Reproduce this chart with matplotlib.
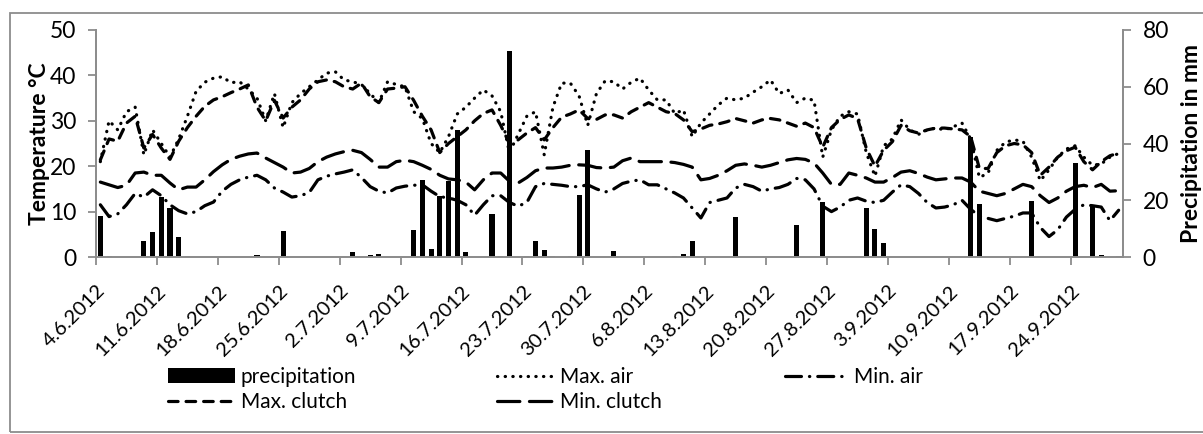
import numpy as np
import pandas as pd
import matplotlib
matplotlib.use("Agg")
import matplotlib.pyplot as plt
from matplotlib.patches import Rectangle

plt.rcParams['font.family'] = ['Lato', 'DejaVu Sans']

# daily values 4.6.2012 - 29.9.2012
dates = pd.date_range("2012-06-04", "2012-09-29", freq="D")

precipitation = [
    14.4, 0.5, 0, 0, 0, 5.6, 8.8, 21, 17.2, 7,
    0.3, 0, 0, 0, 0, 0, 0, 0, 0.7, 0,
    0, 9.2, 0, 0, 0, 0, 0, 0, 0, 1.8,
    0, 0.7, 1.2, 0, 0, 0, 9.5, 27, 2.8, 21.5,
    26.8, 44.7, 1.8, 0, 0, 15.1, 0.3, 72.5, 0, 0.2,
    5.6, 2.5, 0.5, 0, 0.2, 22, 37.7, 0, 0, 2.1,
    0, 0, 0, 0, 0, 0, 0.5, 1.2, 5.6, 0,
    0, 0, 0, 14, 0, 0, 0, 0, 0, 0,
    11.3, 0, 0, 19.4, 0, 0, 0, 0, 17.2, 9.9,
    4.9, 0, 0, 0, 0, 0, 0, 0, 0, 0,
    42.3, 18.7, 0, 0, 0, 0, 0, 19.7, 0, 0,
    0, 0, 33.1, 0, 17.6, 0.7, 0, 0.3,
]

max_air = [
    21, 30, 28, 32, 33, 22.5, 28, 25, 22, 26,
    31, 36.5, 38.5, 39.4, 39.7, 38.4, 38.6, 37, 35, 30,
    36, 28.5, 34, 36, 37.5, 39, 40.5, 40.8, 39, 38.6,
    38, 36, 34, 38.6, 38, 37.5, 32, 30.5, 25, 23,
    26.5, 31.5, 33, 35, 36.8, 35.5, 32, 23, 27, 31,
    32, 22.5, 33, 38.3, 38.3, 35.5, 29, 36, 38.8, 38.6,
    37, 38.5, 39.4, 36.8, 34.6, 34.6, 31.6, 32.4, 26.5, 29.5,
    31.5, 33.5, 35, 34.6, 35, 36.3, 37.5, 39, 36, 36.8,
    34, 35, 34.5, 22, 28, 31, 32, 31.5, 23, 17.8,
    24.5, 26, 30.2, 28, 27, 28, 28.4, 28, 28.7, 29.5,
    26, 17.5, 18.5, 23.5, 25.3, 25.8, 25.5, 22, 16.8, 19.2,
    22, 23.8, 24.5, 22, 20.2, 20.5, 22, 22.8,
]

min_air = [
    11.5, 8.9, 9.5, 11.5, 14, 13.2, 14.8, 13.5, 11.5, 10.2,
    9.5, 10, 11.3, 12.1, 14.5, 16, 17, 17.6, 18, 17,
    15.2, 14.3, 13.2, 13.5, 14.2, 17, 17.8, 18.3, 18.7, 19.2,
    17.5, 15.5, 14.5, 14.1, 15.2, 15.6, 15.8, 15.9, 14.5, 13.3,
    13, 12.5, 11.5, 9.2, 11.5, 13.5, 13.5, 12, 11.2, 12,
    15.5, 16.2, 16, 15.8, 15.5, 15.5, 15.9, 15, 14.3, 15,
    16.2, 16.7, 17, 15.9, 15.9, 15, 14.1, 13, 10.8, 8.6,
    12, 12.5, 13, 15.2, 16, 15.5, 14.5, 15, 15.3, 16,
    17.3, 17, 15, 11.2, 10, 11, 12.5, 13, 12.3, 12,
    12.5, 14.3, 15.9, 15.5, 14, 12, 10.8, 11, 11.5, 12.5,
    10.5, 9, 8.5, 8, 8.5, 9, 9.7, 9.7, 6.5, 4.5,
    6, 8.8, 10.5, 11.5, 11.3, 11, 8, 10.3,
]

max_clutch = [
    21.4, 26, 25.5, 29.5, 31, 24, 27, 24, 21.5, 25.5,
    28.5, 31, 33.2, 34.6, 35.3, 36.2, 37, 37.9, 33, 30,
    34.5, 30.6, 33, 34.6, 37, 38.6, 39, 38.6, 37.5, 37,
    38.3, 35.3, 34, 37, 37.2, 37.5, 34.5, 31, 28, 23,
    25, 26.5, 28, 30, 31.6, 32.4, 29, 25, 25.8, 27.3,
    28.5, 25.8, 28.5, 30.8, 31.5, 32.4, 30.5, 30.3, 31.3, 31.3,
    30.6, 32, 33, 34, 33, 32, 31.6, 30.2, 27.6, 28.2,
    29, 29.3, 29.8, 30.5, 30, 29.5, 30.2, 30.5, 30.2, 29.5,
    28.8, 29.5, 28.5, 24.2, 28.5, 30.3, 31.3, 30.5, 24, 20,
    23.5, 25.4, 29, 27.8, 27.3, 28, 28.4, 28.4, 28.2, 28,
    26.5, 19.5, 19.5, 23, 24.5, 25, 24.7, 23, 18, 19.8,
    22, 23.4, 24.2, 21, 19.2, 21, 22.3, 22.9,
]

min_clutch = [
    16.5, 15.9, 15.3, 15.8, 18.5, 18.7, 18, 18, 16.3, 14.8,
    15.4, 15.4, 17, 18.8, 20.3, 21.5, 22.2, 22.7, 22.9, 21.8,
    20.8, 19.8, 18.5, 18.7, 19.5, 21, 22, 22.7, 23.2, 23.5,
    23, 21.5, 19.8, 19.8, 21, 21.3, 21, 20.2, 19.3, 18,
    17.2, 17, 16.5, 14.8, 17, 18.5, 18.5, 16.7, 16.3, 17.5,
    19, 19.6, 19.6, 19.8, 20.2, 20.3, 20.2, 19.7, 19.6, 19.8,
    21.2, 21.8, 21, 21, 21, 21, 20.8, 20.4, 19.8, 17,
    17.3, 18, 19, 20.2, 20.5, 20.2, 19.8, 20.2, 20.8, 21.4,
    21.7, 21.5, 20.7, 18.5, 16, 16, 18.5, 18, 17.4, 16.5,
    16.5, 17.5, 18.7, 19, 18.4, 17.6, 17, 17.2, 17.4, 17.4,
    16.5, 14.5, 14, 13.5, 14, 15, 16, 15.5, 13.5, 12,
    13, 14.5, 15.5, 15.8, 15.3, 16, 14.5, 14.6,
]

tick_labels = [f"{d.day}.{d.month}.{d.year}" for d in dates[::7]]

GRAY = "#8c8c8c"
FS_XT = 14.5
FS_YT = 16.5
FS_LEG = 15
FS_LAB = 16.5

fig = plt.figure(figsize=(12.03, 4.34), dpi=100)
ax = fig.add_axes([96 / 1203, 1 - 257 / 434, (1123 - 96) / 1203, (257 - 30) / 434])
ax2 = ax.twinx()

x = np.arange(len(dates))

ax.plot(x, max_air, color="black", lw=2.3, linestyle=(0, (0.1, 2.3)),
        dash_capstyle="round", label="Max. air")
ax.plot(x, min_air, color="black", lw=2.3, linestyle=(0, (5, 2.5, 0.1, 2.5)),
        dash_capstyle="round", label="Min. air")
ax.plot(x, max_clutch, color="black", lw=2.3, linestyle=(0, (3, 2.5)),
        dash_capstyle="round", label="Max. clutch")
ax.plot(x, min_clutch, color="black", lw=2.3, linestyle=(0, (7, 3)),
        dash_capstyle="round", label="Min. clutch")

ax2.bar(x, precipitation, width=0.58, color="black", label="precipitation")

ax.set_xlim(-0.5, len(dates) - 0.5)
ax.set_ylim(0, 50)
ax2.set_ylim(0, 80)
ax.set_yticks(range(0, 51, 10))
ax2.set_yticks(range(0, 81, 20))
ax.set_xticks(x[::7] - 0.5)
ax.set_xticklabels(tick_labels, rotation=45, ha="right", va="top",
                   rotation_mode="anchor", fontsize=FS_XT)

for a in (ax, ax2):
    a.spines["top"].set_visible(False)
    for s in ("left", "right", "bottom"):
        a.spines[s].set_color(GRAY)
        a.spines[s].set_linewidth(1.3)
    a.tick_params(colors=GRAY, labelcolor="black", length=6,
                  width=1.3, direction="out")
    a.tick_params(axis="y", labelsize=FS_YT, pad=8)
ax.tick_params(axis="x", pad=12)
ax.set_zorder(ax2.get_zorder() + 1)
ax.patch.set_visible(False)

ax.set_ylabel("Temperature °C", fontsize=FS_LAB, fontweight="bold", labelpad=0)
ax2.set_ylabel("Precipitation in mm", fontsize=FS_LAB, fontweight="bold",
               rotation=90, labelpad=9)

h1, l1 = ax.get_legend_handles_labels()
h2, l2 = ax2.get_legend_handles_labels()
hd = dict(zip(l1 + l2, h1 + h2))

# one legend per column, Excel-like layout
columns = [
    (["precipitation", "Max. clutch"], 168, 3.2),
    (["Max. air", "Min. clutch"], 497, 2.7),
    (["Min. air"], 785, 3.0),
]
for names, x0, hl in columns:
    fig.legend([hd[k] for k in names], names, loc="upper left",
               bbox_to_anchor=(x0 / 1203, 1 - 367 / 434), frameon=False,
               fontsize=FS_LEG, handlelength=hl, handletextpad=0.3,
               labelspacing=0.25, borderpad=0, borderaxespad=0)

fig.patches.append(Rectangle((10 / 1203, 2 / 434), 1.2, 1 - 15 / 434,
                             transform=fig.transFigure, fill=False,
                             edgecolor=GRAY, lw=1.3))

fig.savefig("out.png", dpi=100)
